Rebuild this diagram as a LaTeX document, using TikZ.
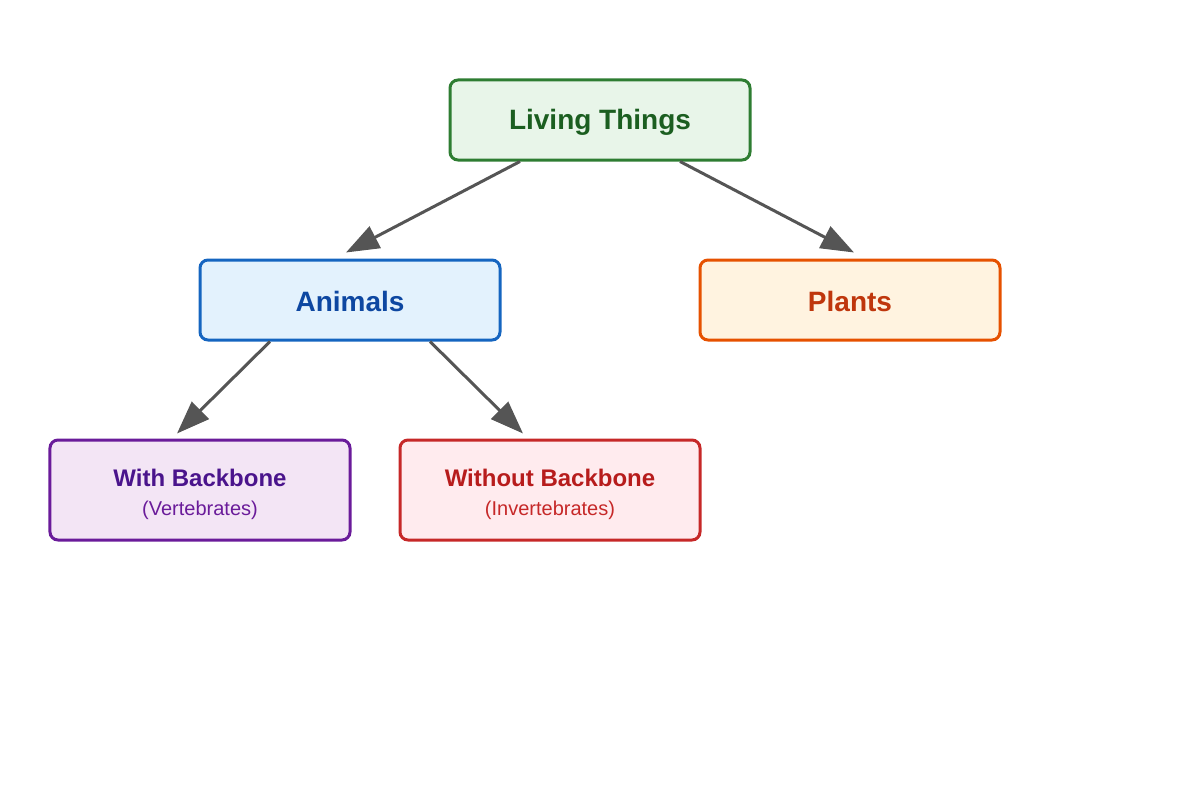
\documentclass[tikz,border=0pt]{standalone}
\usepackage{fontspec}
\setmainfont{Liberation Sans}
\usetikzlibrary{arrows.meta}
\definecolor{gB}{HTML}{2E7D32}\definecolor{gF}{HTML}{E8F5E9}\definecolor{gT}{HTML}{1B5E20}
\definecolor{bB}{HTML}{1565C0}\definecolor{bF}{HTML}{E3F2FD}\definecolor{bT}{HTML}{0D47A1}
\definecolor{oB}{HTML}{E65100}\definecolor{oF}{HTML}{FFF3E0}\definecolor{oT}{HTML}{BF360C}
\definecolor{pB}{HTML}{6A1B9A}\definecolor{pF}{HTML}{F3E5F5}\definecolor{pT}{HTML}{4A148C}
\definecolor{rB}{HTML}{C62828}\definecolor{rF}{HTML}{FFEBEE}\definecolor{rT}{HTML}{B71C1C}
\definecolor{arrC}{HTML}{555555}
\tikzset{
  box/.style={draw, line width=3bp, rounded corners=8bp, minimum width=300bp, inner sep=0pt, align=center},
  small/.style={box, minimum height=80bp},
  big/.style={box, minimum height=100bp},
  head/.style={font=\bfseries\fontsize{28bp}{32bp}\selectfont},
  arr/.style={draw=arrC, line width=3bp, -{Triangle[length=33bp, width=24bp]}},
}
\begin{document}
\begin{tikzpicture}[x=1bp, y=-1bp]
\useasboundingbox (0,0) rectangle (1200,800);
\node[small, draw=gB, fill=gF] (root) at (600,120) {};
\node[head, text=gT] (rootT) at (600,122) {Living Things};
\node[small, draw=bB, fill=bF] (animals) at (350,300) {};
\node[head, text=bT] (animalsT) at (350,301) {Animals};
\node[small, draw=oB, fill=oF] (plants) at (850,300) {};
\node[head, text=oT] (plantsT) at (850,301) {Plants};
\node[big, draw=pB, fill=pF] (with) at (200,490) {};
\node[text=pT, font=\bfseries\fontsize{24bp}{28bp}\selectfont] (withT) at (200,478) {With Backbone};
\node[text=pB, font=\fontsize{20bp}{24bp}\selectfont] (withS) at (200,510) {(Vertebrates)};
\node[big, draw=rB, fill=rF] (without) at (550,490) {};
\node[text=rT, font=\bfseries\fontsize{24bp}{28bp}\selectfont] (withoutT) at (550,478) {Without Backbone};
\node[text=rB, font=\fontsize{20bp}{24bp}\selectfont] (withoutS) at (550,510) {(Invertebrates)};
\draw[arr] ([xshift=-80bp]root.south) -- ([xshift=-4bp, yshift=6bp]animals.north);
\draw[arr] ([xshift=80bp]root.south) -- ([xshift=4bp, yshift=6bp]plants.north);
\draw[arr] ([xshift=-80bp]animals.south) -- ([xshift=-23bp, yshift=5bp]with.north);
\draw[arr] ([xshift=80bp]animals.south) -- ([xshift=-27bp, yshift=5bp]without.north);
\end{tikzpicture}
\end{document}
